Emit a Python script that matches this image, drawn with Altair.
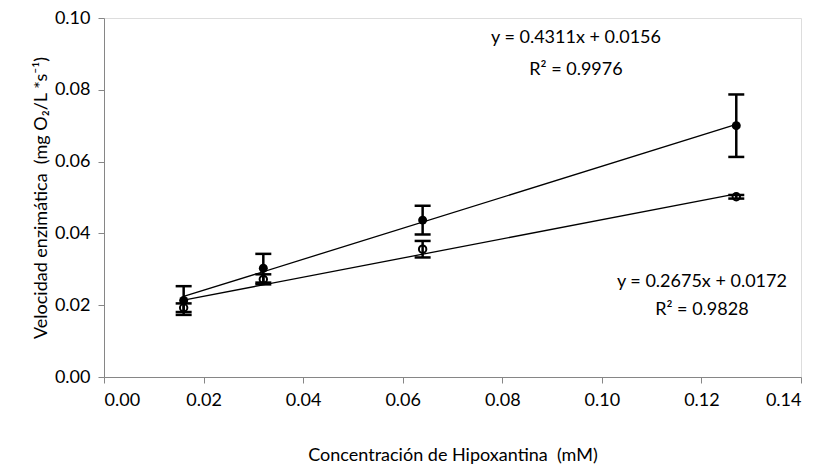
import altair as alt
import pandas as pd

conc = [0.016, 0.032, 0.064, 0.127]
vel_a = [0.0213, 0.0303, 0.0437, 0.0700]
err_a = [0.0040, 0.0040, 0.0040, 0.0087]
vel_b = [0.0193, 0.0272, 0.0356, 0.0502]
err_b = [0.0012, 0.0014, 0.0023, 0.0005]

ann_x = [0.0948, 0.0948, 0.1201, 0.1201]
ann_y = [0.0944, 0.0855, 0.0265, 0.0187]
ann_t = ["y = 0.4311x + 0.0156", "R\u00b2 = 0.9976", "y = 0.2675x + 0.0172", "R\u00b2 = 0.9828"]

FONT = "Lato"
LBL = 18
TTL = 18

rows = []
for s, v, e in (("A", vel_a, err_a), ("B", vel_b, err_b)):
    for x, y, d in zip(conc, v, e):
        rows.append({"serie": s, "x": x, "y": y, "lo": y - d, "hi": y + d})
df = pd.DataFrame(rows)
ann = pd.DataFrame({"x": ann_x, "y": ann_y, "t": ann_t})

xs = alt.Scale(domain=[0, 0.14], nice=False)
ys = alt.Scale(domain=[0, 0.10], nice=False)

X = alt.X("x:Q", scale=xs, axis=alt.Axis(
    title="Concentración de Hipoxantina \u00a0(mM)", values=[0, 0.02, 0.04, 0.06, 0.08, 0.10, 0.12, 0.14],
    format=".2f", grid=False, domainColor="#868686", tickColor="#868686", tickSize=6,
    labelPadding=8, titlePadding=37, labelFontSize=LBL, titleFontSize=TTL,
    labelColor="#000", titleColor="#000", labelFont=FONT, titleFont=FONT, titleFontWeight="normal"))
Y = alt.Y("y:Q", scale=ys, axis=alt.Axis(
    title="Velocidad enzimática \u00a0(mg O\u2082/L *s\u207b\u00b9)", values=[0, 0.02, 0.04, 0.06, 0.08, 0.10],
    format=".2f", grid=False, domainColor="#868686", tickColor="#868686", tickSize=6,
    labelPadding=8, titlePadding=4, labelFontSize=LBL, titleFontSize=TTL,
    labelColor="#000", titleColor="#000", labelFont=FONT, titleFont=FONT, titleFontWeight="normal"))

base = alt.Chart(df)

lines = base.transform_regression("x", "y", groupby=["serie"]).mark_line(
    color="black", strokeWidth=1.3).encode(x=X, y=Y, detail="serie:N")

rules = base.mark_rule(color="black", strokeWidth=2.5).encode(
    x=alt.X("x:Q", scale=xs), y=alt.Y("lo:Q", scale=ys), y2="hi:Q")
caps_lo = base.mark_tick(color="black", orient="horizontal", size=16, thickness=2.5, opacity=1).encode(
    x=alt.X("x:Q", scale=xs), y=alt.Y("lo:Q", scale=ys))
caps_hi = base.mark_tick(color="black", orient="horizontal", size=16, thickness=2.5, opacity=1).encode(
    x=alt.X("x:Q", scale=xs), y=alt.Y("hi:Q", scale=ys))

pts_a = base.transform_filter(alt.datum.serie == "A").mark_point(
    shape="circle", filled=True, color="black", size=80, opacity=1).encode(
    x=alt.X("x:Q", scale=xs), y=alt.Y("y:Q", scale=ys))
pts_b = base.transform_filter(alt.datum.serie == "B").mark_point(
    shape="circle", filled=False, color="black", size=55, strokeWidth=2, opacity=1).encode(
    x=alt.X("x:Q", scale=xs), y=alt.Y("y:Q", scale=ys))

texts = alt.Chart(ann).mark_text(font=FONT, fontSize=LBL, color="black", align="center",
                                 baseline="middle").encode(
    x=alt.X("x:Q", scale=xs), y=alt.Y("y:Q", scale=ys), text="t:N")

chart = alt.layer(lines, rules, caps_lo, caps_hi, pts_a, pts_b, texts).properties(
    width=697, height=359,
    autosize=alt.AutoSizeParams(type="none"),
    padding={"left": 96, "top": 10, "right": 17, "bottom": 89},
).configure_view(stroke=None).configure(background="white")

chart.save("out.html", embed_options={"renderer": "svg", "actions": False})
